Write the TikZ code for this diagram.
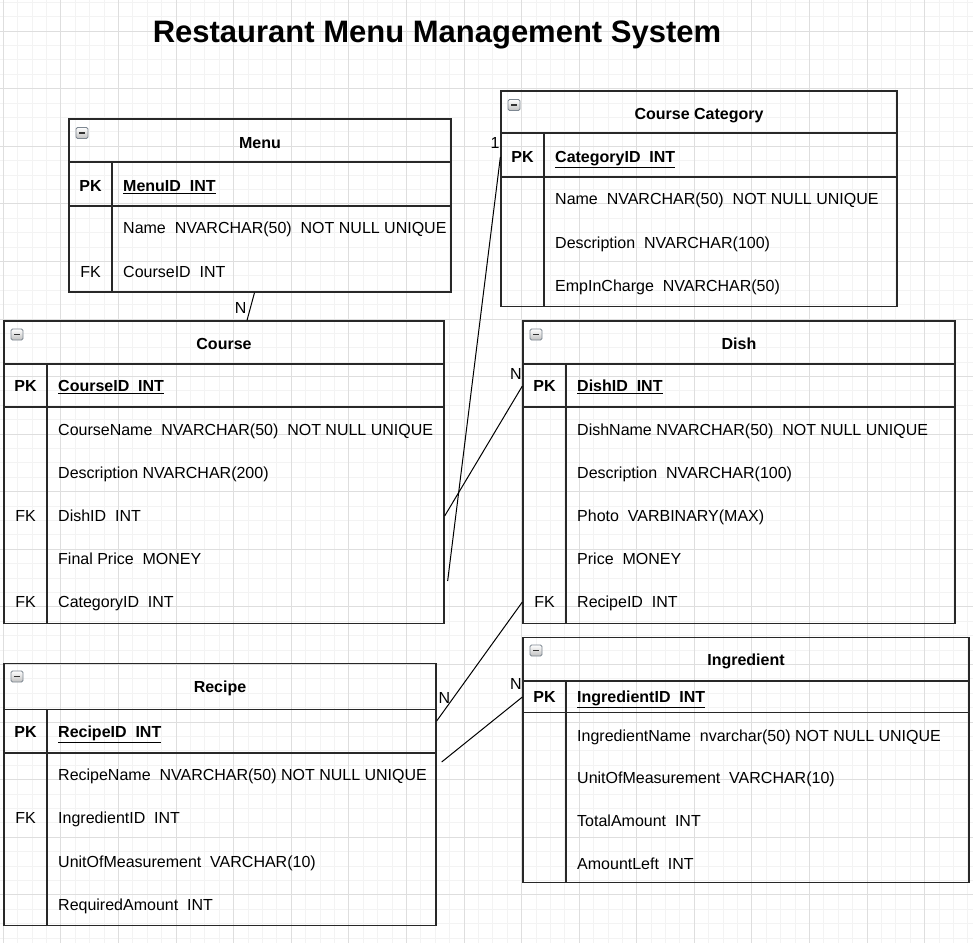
\documentclass[tikz,border=0pt]{standalone}
\usepackage{fontspec}
\setmainfont{Liberation Sans}
\usepackage{tikz}
\usepackage{xcolor}
\definecolor{GridMinor}{RGB}{243, 243, 243}
\definecolor{GridMajor}{RGB}{222, 222, 222}
\definecolor{TableLine}{RGB}{40, 40, 40}
\definecolor{IconLine}{RGB}{125, 135, 145}

\newcommand{\tblfont}{\fontsize{16pt}{19pt}\selectfont}

\tikzset{
    tbl/.style={draw=TableLine, line width=1.3pt, inner sep=0pt},
    tblline/.style={TableLine, line width=1.3pt},
    txt/.style={font=\tblfont, inner sep=0pt, text height=11.5pt, text depth=0pt},
    head/.style={txt, font=\tblfont\bfseries},
    field/.style={txt, anchor=west},
    pkfield/.style={field, font=\tblfont\bfseries},
    icon/.style={draw=IconLine, line width=0.8pt, rounded corners=1.5pt, minimum width=12pt, minimum height=11pt, inner sep=0pt,
        top color=white, bottom color=black!25,
        path picture={\draw[black!80, line width=1.8pt] ([xshift=-3pt]path picture bounding box.center) -- ([xshift=3pt]path picture bounding box.center);}},
    conn/.style={black, line width=1pt},
}

\begin{document}
\begin{tikzpicture}[x=1pt, y=-1pt]
    \useasboundingbox (0,0) rectangle (973,943);
    \fill[white] (0,0) rectangle (973,943);

    % Grid
    \foreach \i in {0,...,67}
        \draw[GridMinor, line width=0.8pt] ({3.3+14.395*\i},0) -- ({3.3+14.395*\i},943);
    \foreach \j in {-2,...,63}
        \draw[GridMinor, line width=0.8pt] (0,{31+14.395*\j}) -- (973,{31+14.395*\j});
    \foreach \i in {0,...,16}
        \draw[GridMajor, line width=0.8pt] ({3.3+57.58*\i},0) -- ({3.3+57.58*\i},943);
    \foreach \j in {0,...,15}
        \draw[GridMajor, line width=0.8pt] (0,{31+57.58*\j}) -- (973,{31+57.58*\j});

    % Title
    \node[font=\fontsize{31pt}{36pt}\selectfont\bfseries, inner sep=0pt, text height=22.2pt, text depth=0pt] (title) at (437,31) {Restaurant Menu Management System};

    % Menu
    \node[tbl, minimum width=382pt, minimum height=173pt] (menu) at (260,205.5) {};
    \node[icon] (menuicon) at (82,133) {};
    \node[head] (menutitle) at (260,142.5) {Menu};
    \draw[tblline] (69,162) -- (451,162);
    \draw[tblline] (69,206) -- (451,206);
    \draw[tblline] (112,162) -- (112,292);
    \node[head] (menupkkey) at (90.5,186) {PK};
    \node[pkfield] (menupk) at (123,186) {\underline{MenuID~~INT}};
    \node[field] (menuname) at (123,228) {Name~~NVARCHAR(50)~~NOT NULL UNIQUE};
    \node[txt] (menufk) at (90.5,271.5) {FK};
    \node[field] (menucourseid) at (123,271.5) {CourseID~~INT};

    % Course Category
    \node[tbl, minimum width=396pt, minimum height=215.5pt] (catg) at (699,198.75) {};
    \node[icon] (catgicon) at (514,105) {};
    \node[head] (catgtitle) at (699,113.5) {Course Category};
    \draw[tblline] (501,133) -- (897,133);
    \draw[tblline] (501,177) -- (897,177);
    \draw[tblline] (544,133) -- (544,306.5);
    \node[head] (catgpkkey) at (522.5,157) {PK};
    \node[pkfield] (catgpk) at (555,157) {\underline{CategoryID~~INT}};
    \node[field] (catgname) at (555,199) {Name~~NVARCHAR(50)~~NOT NULL UNIQUE};
    \node[field] (catgdesc) at (555,242.5) {Description~~NVARCHAR(100)};
    \node[field] (catgemp) at (555,286) {EmpInCharge~~NVARCHAR(50)};

    % Course
    \node[tbl, minimum width=440pt, minimum height=302.5pt] (course) at (224,472.25) {};
    \node[icon] (courseicon) at (17,334.5) {};
    \node[head] (coursetitle) at (224,343.5) {Course};
    \draw[tblline] (4,364) -- (444,364);
    \draw[tblline] (4,407) -- (444,407);
    \draw[tblline] (47,364) -- (47,623.5);
    \node[head] (coursepkkey) at (25.5,386) {PK};
    \node[pkfield] (coursepk) at (58,386) {\underline{CourseID~~INT}};
    \node[field] (coursename) at (58,430) {CourseName~~NVARCHAR(50)~~NOT NULL UNIQUE};
    \node[field] (coursedesc) at (58,473) {Description NVARCHAR(200)};
    \node[txt] (coursefk1) at (25.5,516) {FK};
    \node[field] (coursedishid) at (58,516) {DishID~~INT};
    \node[field] (courseprice) at (58,559) {Final Price~~MONEY};
    \node[txt] (coursefk2) at (25.5,602) {FK};
    \node[field] (coursecatid) at (58,602) {CategoryID~~INT};

    % Dish
    \node[tbl, minimum width=432pt, minimum height=302.5pt] (dish) at (739,472.25) {};
    \node[icon] (dishicon) at (536,334.5) {};
    \node[head] (dishtitle) at (739,343.5) {Dish};
    \draw[tblline] (523,364) -- (955,364);
    \draw[tblline] (523,407) -- (955,407);
    \draw[tblline] (566,364) -- (566,623.5);
    \node[head] (dishpkkey) at (544.5,386) {PK};
    \node[pkfield] (dishpk) at (577,386) {\underline{DishID~~INT}};
    \node[field] (dishname) at (577,430) {DishName NVARCHAR(50)~~NOT NULL UNIQUE};
    \node[field] (dishdesc) at (577,473) {Description~~NVARCHAR(100)};
    \node[field] (dishphoto) at (577,516) {Photo~~VARBINARY(MAX)};
    \node[field] (dishprice) at (577,559) {Price~~MONEY};
    \node[txt] (dishfk) at (544.5,602) {FK};
    \node[field] (dishrecipeid) at (577,602) {RecipeID~~INT};

    % Recipe
    \node[tbl, minimum width=432pt, minimum height=262pt] (recipe) at (220,794.5) {};
    \node[icon] (recipeicon) at (17,676.5) {};
    \node[head] (recipetitle) at (220,687) {Recipe};
    \draw[tblline] (4,709.5) -- (436,709.5);
    \draw[tblline] (4,753) -- (436,753);
    \draw[tblline] (47,709.5) -- (47,925.5);
    \node[head] (recipepkkey) at (25.5,732) {PK};
    \node[pkfield] (recipepk) at (58,732) {\underline{RecipeID~~INT}};
    \node[field] (recipename) at (58,775) {RecipeName~~NVARCHAR(50) NOT NULL UNIQUE};
    \node[txt] (recipefk) at (25.5,818) {FK};
    \node[field] (recipeingrid) at (58,818) {IngredientID~~INT};
    \node[field] (recipeunit) at (58,861.5) {UnitOfMeasurement~~VARCHAR(10)};
    \node[field] (recipeamount) at (58,905) {RequiredAmount~~INT};

    % Ingredient
    \node[tbl, minimum width=446pt, minimum height=245pt] (ingr) at (746,760) {};
    \node[icon] (ingricon) at (536,650.5) {};
    \node[head] (ingrtitle) at (746,660) {Ingredient};
    \draw[tblline] (523,681) -- (969,681);
    \draw[tblline] (523,712.5) -- (969,712.5);
    \draw[tblline] (566,681) -- (566,882.5);
    \node[head] (ingrpkkey) at (544.5,697) {PK};
    \node[pkfield] (ingrpk) at (577,697) {\underline{IngredientID~~INT}};
    \node[field] (ingrname) at (577,735.5) {IngredientName~~nvarchar(50) NOT NULL UNIQUE};
    \node[field] (ingrunit) at (577,778) {UnitOfMeasurement~~VARCHAR(10)};
    \node[field] (ingrtotal) at (577,821) {TotalAmount~~INT};
    \node[field] (ingrleft) at (577,863.5) {AmountLeft~~INT};

    % Relationships
    \draw[conn] ([xshift=-5.5pt]menu.south) -- ([xshift=23pt]course.north);
    \node[txt] (cardmenu) at (240.7,308) {N};
    \draw[conn] (catg.west |- catgpk) -- ([shift={(3pt,21pt)}]course.east |- coursecatid);
    \node[txt] (cardcatg) at (495,143) {1};
    \draw[conn] (course.east |- coursedishid) -- (dish.west |- dishpk);
    \node[txt] (carddish) at (516,373.3) {N};
    \draw[conn] (dish.west |- dishrecipeid) -- ([yshift=11pt]recipe.east |- recipepk);
    \node[txt] (cardrecipe) at (444.5,697.5) {N};
    \draw[conn] (ingr.west |- ingrpk) -- ([shift={(5pt,13pt)}]recipe.east |- recipename);
    \node[txt] (cardingr) at (516,683.5) {N};
\end{tikzpicture}
\end{document}
